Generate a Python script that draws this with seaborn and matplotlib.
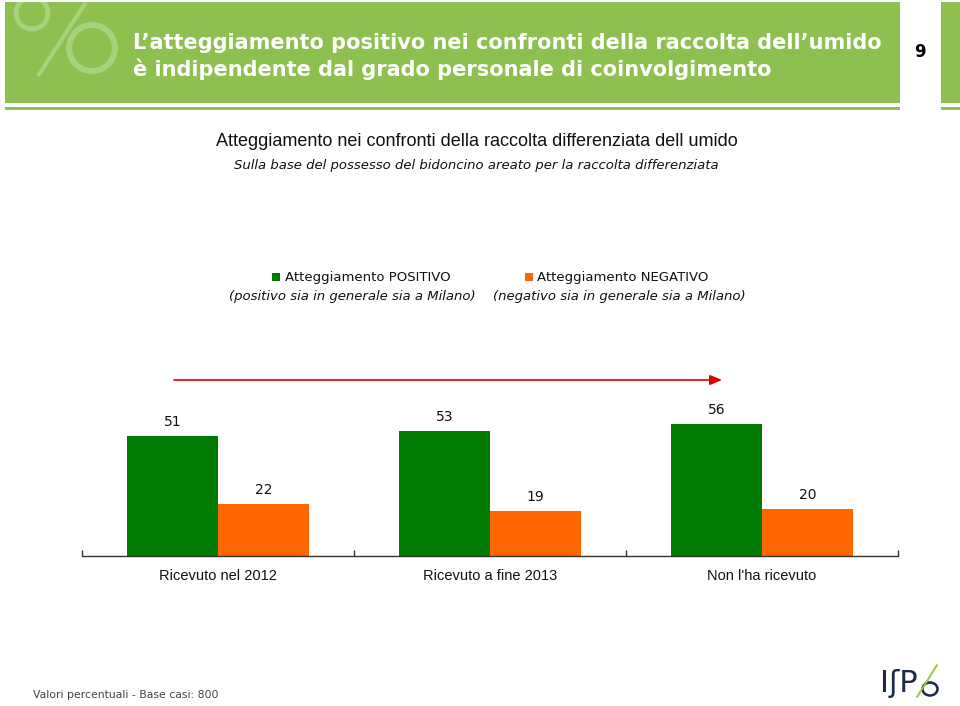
import matplotlib
matplotlib.use("Agg")
import matplotlib.pyplot as plt
import matplotlib.patches as mpatches
import seaborn as sns
import pandas as pd

categories = ["Ricevuto nel 2012", "Ricevuto a fine 2013", "Non l'ha ricevuto"]
series_names = ["Atteggiamento POSITIVO", "Atteggiamento NEGATIVO"]
positivo = [51, 53, 56]
negativo = [22, 19, 20]

title_lines = ["L\u2019atteggiamento positivo nei confronti della raccolta dell\u2019umido",
               "\u00e8 indipendente dal grado personale di coinvolgimento"]
subtitle = "Atteggiamento nei confronti della raccolta differenziata dell umido"
subtitle2 = "Sulla base del possesso del bidoncino areato per la raccolta differenziata"
legend_sub = ["(positivo sia in generale sia a Milano)", "(negativo sia in generale sia a Milano)"]
footer = "Valori percentuali - Base casi: 800"
page_no = "9"

GREEN = "#007A00"
ORANGE = "#FF6600"
HEADER = "#8DC04E"

df = pd.DataFrame({
    "cat": categories * 2,
    "val": positivo + negativo,
    "serie": [series_names[0]] * 3 + [series_names[1]] * 3,
})

sns.set_theme(style="white")
plt.rcParams["font.family"] = ["DejaVu Sans"]

W, H = 960, 706
fig = plt.figure(figsize=(9.6, 7.06), dpi=100)
fig.patch.set_facecolor("white")

# background/decoration axes in pixel coordinates
bg = fig.add_axes([0, 0, 1, 1], zorder=0)
bg.set_xlim(0, W)
bg.set_ylim(H, 0)
bg.axis("off")
bg.add_patch(mpatches.Rectangle((5, 2), 895, 101, color=HEADER, lw=0))
bg.add_patch(mpatches.Rectangle((5, 107), 895, 3, color=HEADER, lw=0))
bg.add_patch(mpatches.Rectangle((941, 2), 19, 101, color=HEADER, lw=0))
bg.add_patch(mpatches.Rectangle((941, 107), 19, 3, color=HEADER, lw=0))
deco = "#A9D07A"
clip = mpatches.Rectangle((5, 2), 895, 101, transform=bg.transData)
for c, r, w in [((32, 13), 16, 5), ((92, 48), 23, 6)]:
    ring = mpatches.Circle(c, r, fill=False, ec=deco, lw=w * 0.72)
    bg.add_patch(ring)
    ring.set_clip_path(clip)
ln, = bg.plot([86, 38], [2, 76], color=deco, lw=3, solid_capstyle="butt")
ln.set_clip_path(clip)

def fx(x):
    return x / W

def fy(y):
    return 1 - y / H

fig.text(fx(133), fy(43), title_lines[0], color="white", fontsize=15,
         fontweight="bold", va="center", ha="left")
fig.text(fx(133), fy(69), title_lines[1], color="white", fontsize=15,
         fontweight="bold", va="center", ha="left")
fig.text(fx(920), fy(52), page_no, color="black", fontsize=12,
         fontweight="bold", va="center", ha="center")

fig.text(fx(477), fy(141), subtitle, fontsize=13, family="Liberation Sans",
         va="center", ha="center", color="#111111")
fig.text(fx(476), fy(166), subtitle2, fontsize=9.5, style="italic",
         va="center", ha="center", color="#111111")

# legend
for (mx, tx, cx), name, sub, col in zip([(272, 285, 352), (525, 537, 619)], series_names,
                                        legend_sub, [GREEN, ORANGE]):
    bg.add_patch(mpatches.Rectangle((mx, 273), 8, 8, color=col, lw=0))
    fig.text(fx(tx), fy(277), name, fontsize=9.5, va="center", ha="left", color="#111111")
    fig.text(fx(cx), fy(297), sub, fontsize=9.5, style="italic", va="center",
             ha="center", color="#111111")

# red arrow
bg.annotate("", xy=(722, 380), xytext=(174, 380),
            arrowprops=dict(arrowstyle="-|>,head_length=0.6,head_width=0.25",
                            color="#E00000", lw=1.2, shrinkA=0, shrinkB=0))

# footer
fig.text(fx(33), fy(695), footer, fontsize=7.8, va="center", ha="left", color="#444444")

# logo
fig.text(fx(880), fy(683), "I\u0283P", fontsize=22, va="center", ha="left",
         color="#1B2A4A", family="DejaVu Sans")
bg.add_patch(mpatches.Ellipse((930, 689), 15, 13, fill=False, ec="#1B2A4A", lw=1.8))
bg.plot([937, 917], [665, 697], color="#9CC83C", lw=1.4)

# chart
ax = fig.add_axes([fx(82), fy(556), (898 - 82) / W, (556 - 320.5) / H], zorder=2)
ax.patch.set_alpha(0)
sns.barplot(data=df, x="cat", y="val", hue="serie", palette=[GREEN, ORANGE],
            width=0.67, saturation=1, ax=ax, legend=False, linewidth=0)
ax.set_xlim(-0.5, 2.5)
ax.set_ylim(0, 100)
for cont in ax.containers:
    ax.bar_label(cont, padding=5, fontsize=10, color="#111111")
for s in ["top", "left", "right"]:
    ax.spines[s].set_visible(False)
ax.spines["bottom"].set_color("#333333")
ax.spines["bottom"].set_linewidth(1.0)
ax.set_yticks([])
ax.set_xlabel("")
ax.set_ylabel("")
ax.set_xticks([-0.5, 0.5, 1.5, 2.5], minor=True)
ax.tick_params(axis="x", which="minor", direction="in", length=4, width=1,
               color="#333333", bottom=True)
ax.tick_params(axis="x", which="major", length=0, pad=9, labelsize=10.5)
for lab in ax.get_xticklabels():
    lab.set_family("Liberation Sans")
    lab.set_color("#111111")

fig.savefig("out.png", dpi=100, facecolor="white")
